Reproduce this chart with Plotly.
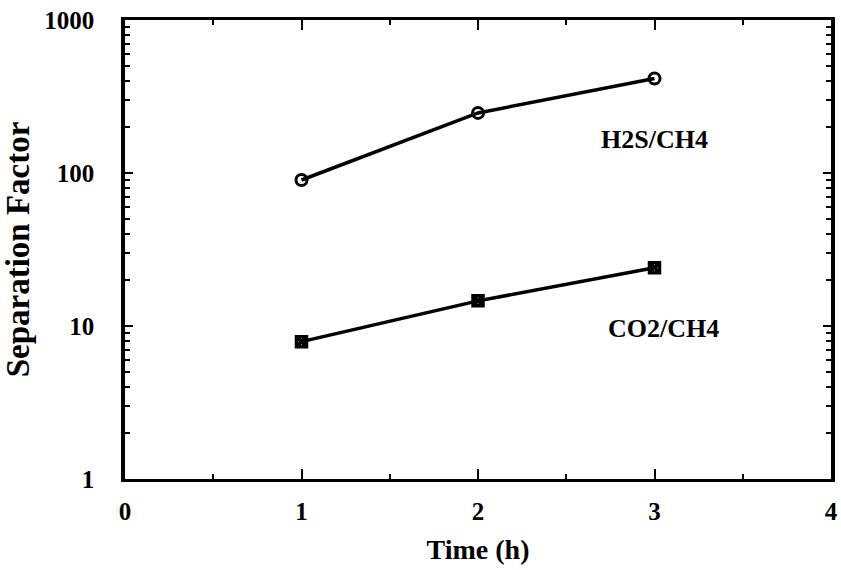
import numpy as np
import plotly.graph_objects as go

time_h = [1, 2, 3]
h2s_ch4 = [90, 247, 415]
co2_ch4 = [7.9, 14.6, 24]
series_labels = ["H2S/CH4", "CO2/CH4"]
label_pos_x = [3.0, 3.05]
label_pos_y = [165, 9.7]
x_ticks = [0, 1, 2, 3, 4]
y_ticks = [1, 10, 100, 1000]

font_family = "Liberation Serif"
bold = dict(family=font_family, color="black", weight="bold")

fig = go.Figure()
fig.add_trace(go.Scatter(
    x=time_h, y=h2s_ch4, mode="lines+markers",
    line=dict(color="black", width=3.5),
    marker=dict(symbol="circle-open", size=11, color="black", line=dict(width=3)),
    name=series_labels[0]))
fig.add_trace(go.Scatter(
    x=time_h, y=co2_ch4, mode="lines+markers",
    line=dict(color="black", width=3.5),
    marker=dict(symbol="square-x-open", size=10, color="black", line=dict(width=3.5)),
    name=series_labels[1]))

for t, xx, yy in zip(series_labels, label_pos_x, label_pos_y):
    fig.add_annotation(x=xx, y=np.log10(yy), xref="x", yref="y", text=t, showarrow=False,
                       font=dict(**bold, size=26))

fig.update_layout(
    width=841, height=570,
    margin=dict(l=125, r=3, t=20, b=91),
    paper_bgcolor="white", plot_bgcolor="white",
    showlegend=False,
    font=dict(family=font_family, size=24, color="black"),
)
fig.update_xaxes(
    range=[0, 4], tickvals=x_ticks, ticktext=[str(v) for v in x_ticks],
    ticks="inside", ticklen=10, tickwidth=2, tickcolor="black",
    minor=dict(tickvals=[0.5, 1.5, 2.5, 3.5], ticks="inside", ticklen=5, tickwidth=2, tickcolor="black"),
    showline=True, linewidth=3, linecolor="black", mirror="ticks",
    showgrid=False, zeroline=False,
    tickfont=dict(**bold, size=25),
    ticklabelstandoff=8,
    title=dict(text="Time (h)", font=dict(**bold, size=28), standoff=16),
)
fig.update_yaxes(
    type="log", range=[0, 3], tickvals=y_ticks, ticktext=[str(v) for v in y_ticks],
    ticks="inside", ticklen=8, tickwidth=2, tickcolor="black",
    minor=dict(dtick="D1", ticks="inside", ticklen=5, tickwidth=2, tickcolor="black", showgrid=False),
    showline=True, linewidth=3.5, linecolor="black", mirror="ticks",
    showgrid=False, zeroline=False,
    tickfont=dict(**bold, size=25),
    ticklabelstandoff=22,
    title=dict(text="Separation Factor", font=dict(**bold, size=33), standoff=10),
)
fig.write_html("out.html")
